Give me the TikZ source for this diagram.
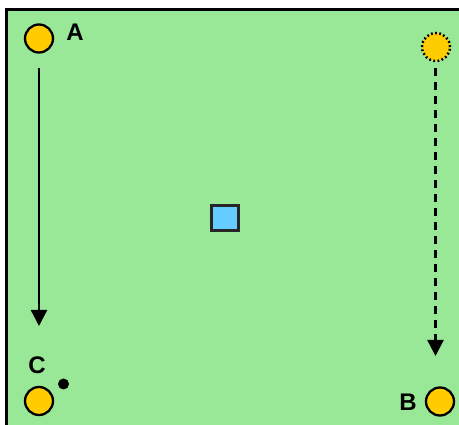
\documentclass[tikz,border=0pt]{standalone}
\usepackage{fontspec}
\setmainfont{Liberation Sans}
\usetikzlibrary{arrows.meta}
\definecolor{fieldgreen}{RGB}{152,232,152}
\definecolor{ballyellow}{RGB}{255,204,0}
\definecolor{boxblue}{RGB}{102,204,255}
\tikzset{
  player/.style={circle, draw=black, line width=2.3pt, fill=ballyellow, minimum size=28pt, inner sep=0pt},
  ghost/.style={circle, draw=black, line width=2.5pt, dash pattern=on 1.8pt off 2.4pt, fill=ballyellow, minimum size=28pt, inner sep=0pt},
  lbl/.style={font=\fontsize{24}{24}\selectfont\bfseries, inner sep=0pt},
  run/.style={line width=2.3pt, -{Triangle[width=16pt,length=16pt]}},
  cone/.style={draw=black!85, line width=3pt, fill=boxblue, minimum width=27pt, minimum height=25pt, inner sep=0pt},
}
\begin{document}
\begin{tikzpicture}[x=1pt,y=-1pt]
\useasboundingbox (0,0) rectangle (459,425);
\fill[fieldgreen] (5,8) rectangle (459,425);
\draw[line width=3.2pt, line cap=rect] (6.5,425) -- (6.5,9.5) -- (459,9.5);
\node[player] (A) at (39,38.5) {};
\node[lbl] (Alab) at (75,32) {A};
\node[ghost] (G) at (436,47) {};
\node[player] (C) at (39,401) {};
\node[lbl] (Clab) at (37,365.5) {C};
\node[circle, fill=black, minimum size=11pt, inner sep=0pt] (dot) at (63.5,384) {};
\node[player] (B) at (440,401.5) {};
\node[lbl] (Blab) at (408,402) {B};
\node[cone] (sq) at (224.5,218.5) {};
\coordinate (a1) at (39,68);
\coordinate (a2) at (39,326);
\coordinate (b1) at (435.5,68);
\coordinate (b2) at (435.5,356);
\draw[run] (a1) -- (a2);
\draw[run, dash pattern=on 8pt off 6pt] (b1) -- (b2);
\end{tikzpicture}
\end{document}
